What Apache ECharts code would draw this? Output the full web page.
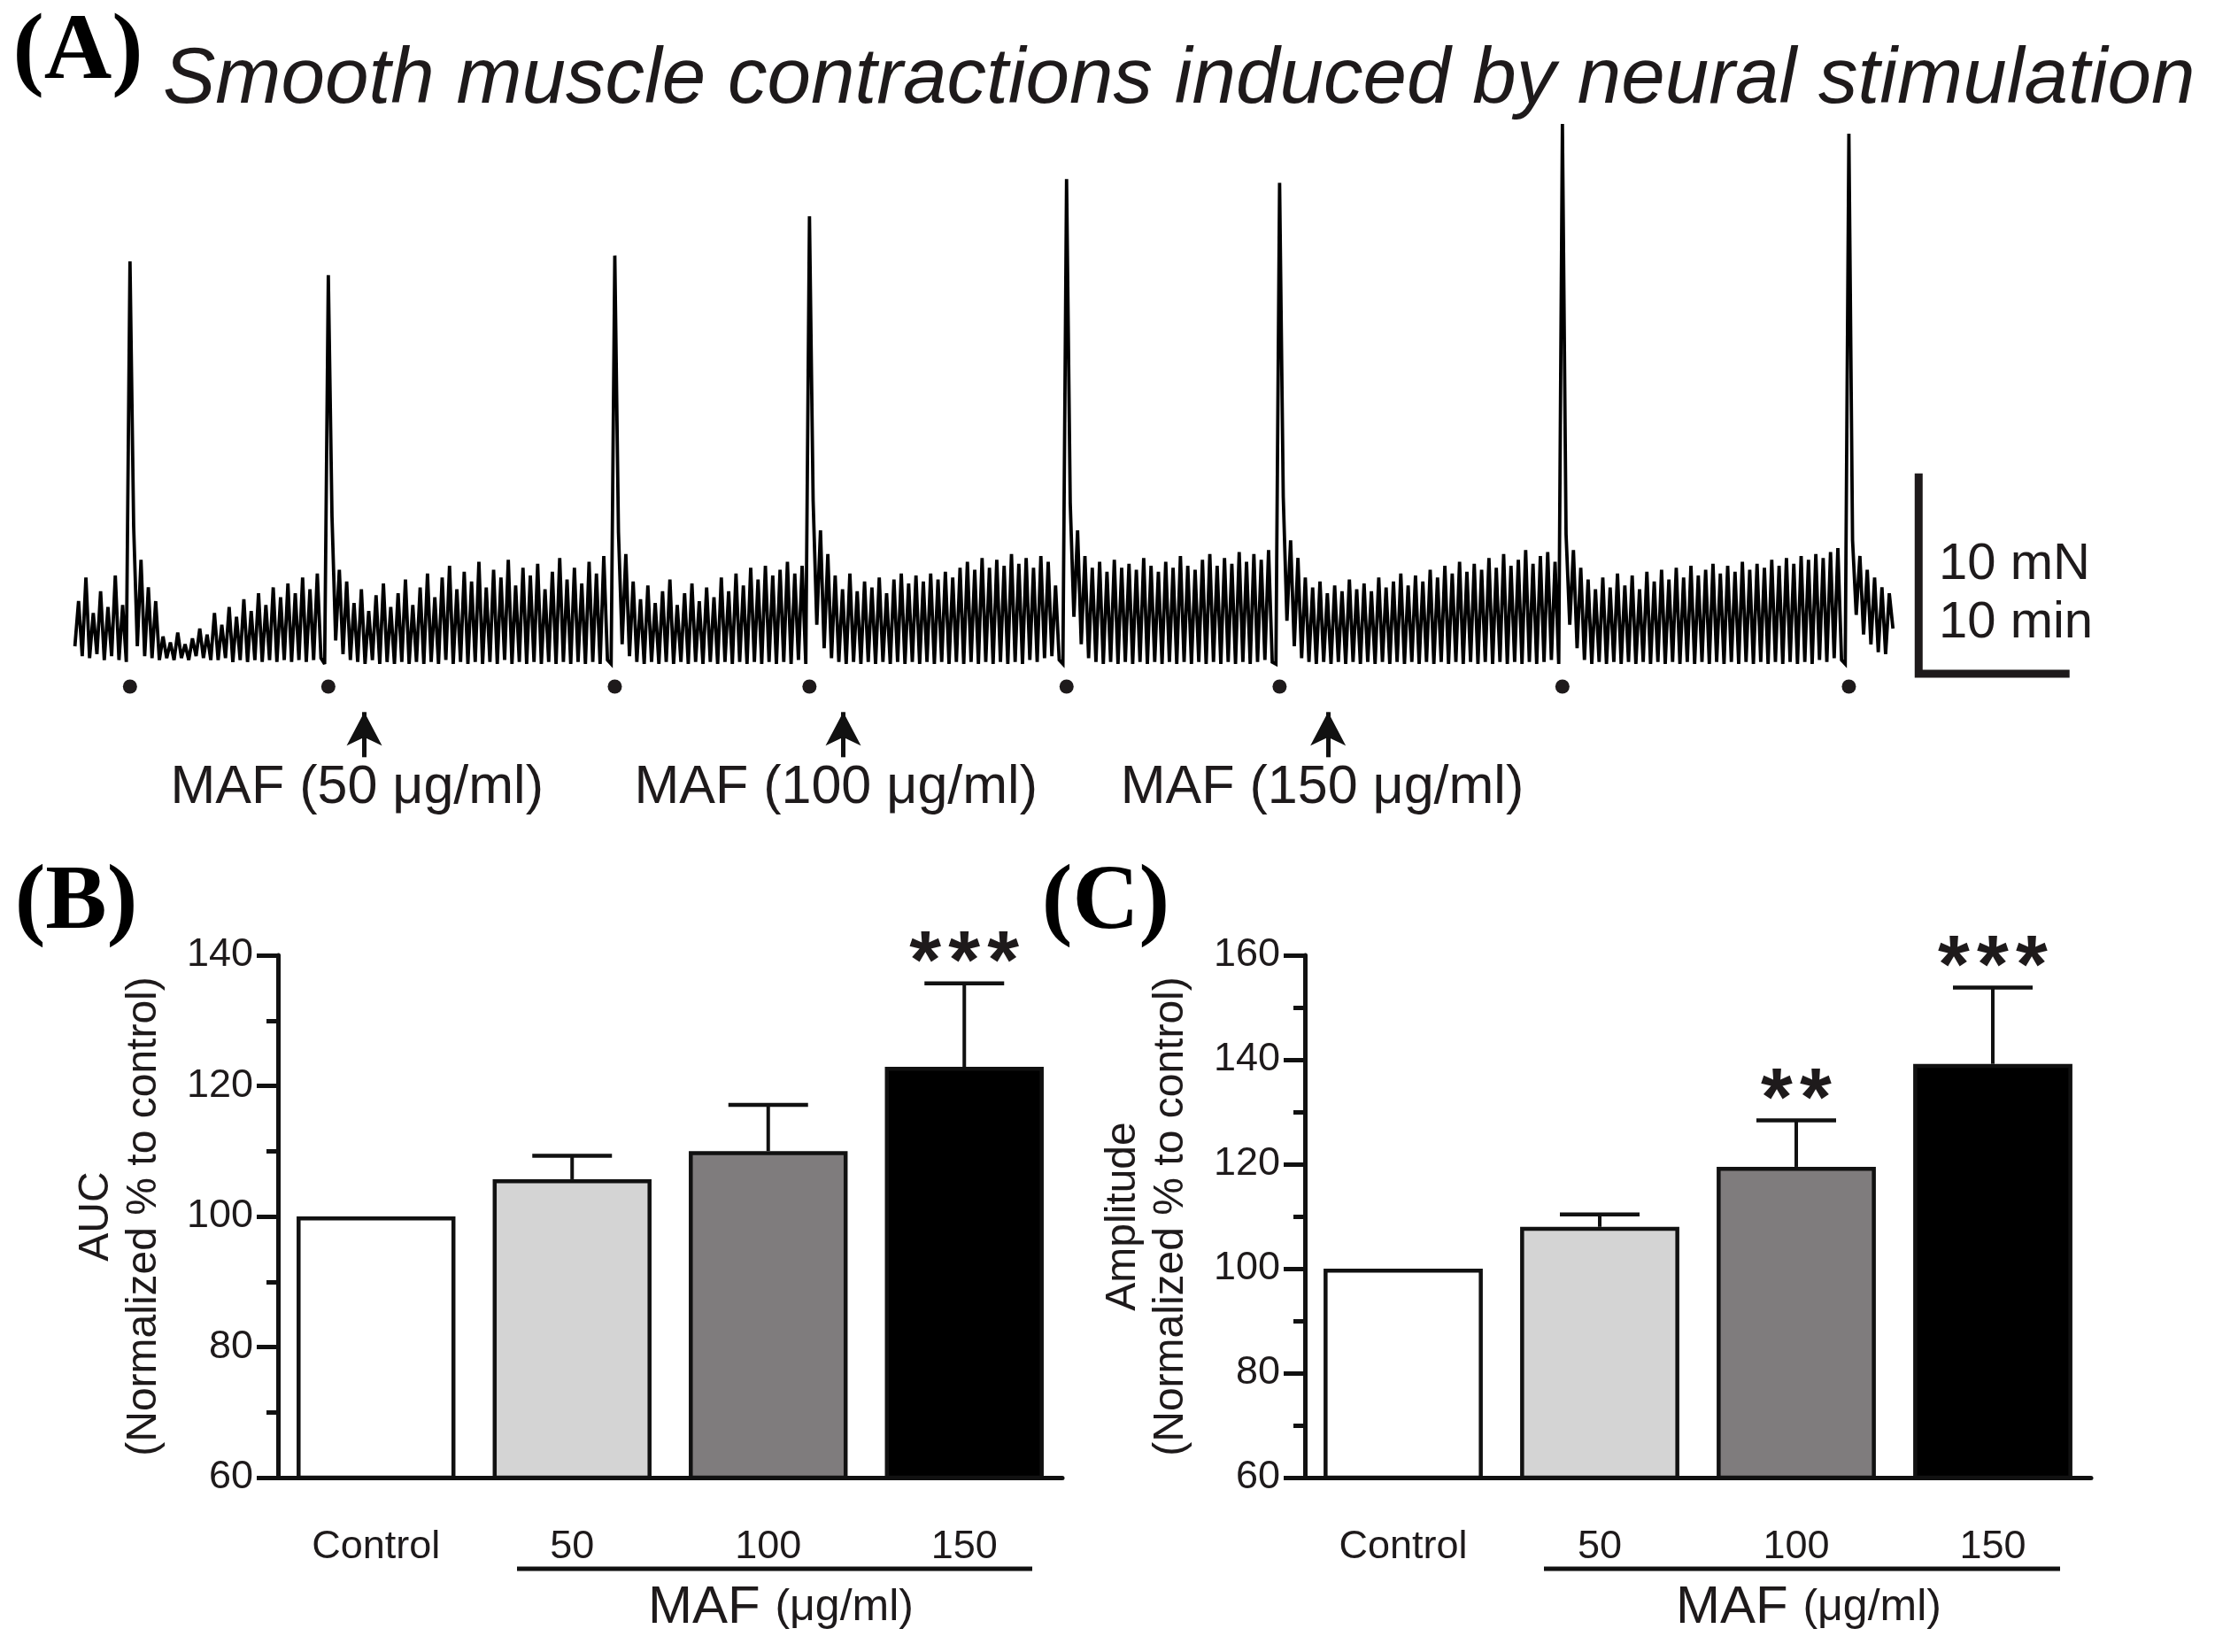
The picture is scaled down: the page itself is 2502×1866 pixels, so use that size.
<!DOCTYPE html>
<html><head><meta charset="utf-8">
<script src="https://cdn.jsdelivr.net/npm/echarts@6/dist/echarts.min.js"></script>
<style>html,body{margin:0;padding:0;background:#fff}#c{width:2502px;height:1866px}</style>
</head><body><div id="c"></div>
<script>
// ---------- Panel A: isometric tension trace (mN), one sample every 0.25 min ----------
const sampleMinutes = 0.25;
const seg0 = [0.9,3.2,0.4,4.4,0.3,2.6,0.5,3.7,0.2,2.9,0.4,4.5,0.2,3.0,0.1];
const seg1 = [7.0,0.9,5.3,0.4,3.9,0.3,3.2,0.2,1.4,0.3, 1.1,0.2,1.6,0.3,1.0,0.2,1.3,0.4,1.8,0.3,
              1.5,0.2,2.6,0.2,2.0,0.3,2.9,0.1,2.4,0.2, 3.3,0.1,2.7,0.2,3.6,0.1,3.0,0.2,3.9,0.1,
              3.4,0.2,4.1,0.1,3.6,0.2,4.4,0.1,3.8,0.2, 4.6,0.3,0.0];
const seg2 = [7.5,1.2,4.8,0.5,4.2,0.2,3.1,0.1,3.8,0.0,2.7,0.2,3.5,0.0,4.1,0.1,2.9,0.0,3.6,0.1,
              4.3,0.0,3.0,0.1,3.9,0.0,4.6,0.1,3.4,0.0,4.4,0.2,5.0,0.0,3.8,0.1,4.7,0.0,4.2,0.1,
              5.2,0.0,3.9,0.1,4.8,0.0,4.4,0.2,5.3,0.0,4.0,0.1,4.9,0.0,4.5,0.1,5.1,0.0,3.8,0.1,
              4.7,0.0,5.4,0.1,4.3,0.0,4.9,0.1,4.1,0.0,5.2,0.1,4.6,0.0,5.5,0.2,0.0];
const seg3 = [6.7,1.0,5.6,0.4,4.2,0.1,3.3,0.0,4.0,0.1,3.1,0.0,3.7,0.1,4.3,0.0,3.0,0.1,3.6,0.0,
              4.1,0.1,3.2,0.0,3.9,0.1,3.4,0.0,4.4,0.1,3.7,0.0,4.6,0.1,4.0,0.0,4.9,0.1,4.3,0.0,
              5.0,0.1,4.5,0.0,4.8,0.1,5.2,0.0,4.6,0.2,5.0,0.0];
const seg4 = [8.3,2.0,6.8,0.8,5.6,0.3,4.5,0.1,3.8,0.0,4.6,0.1,3.7,0.0,4.2,0.1,3.9,0.0,4.4,0.1,
              3.6,0.0,4.3,0.1,4.6,0.0,4.1,0.1,4.5,0.0,4.2,0.1,4.6,0.0,4.3,0.1,4.7,0.0,4.4,0.1,
              4.9,0.0,5.2,0.1,4.8,0.0,5.4,0.1,4.9,0.0,5.3,0.1,5.0,0.0,5.6,0.1,5.1,0.0,5.4,0.2,
              4.9,0.1,5.5,0.3,5.2,0.4,4.0,0.2,0.0];
const seg5 = [8.2,2.4,6.8,1.0,5.5,0.3,4.9,0.1,5.2,0.0,4.7,0.1,5.3,0.0,4.9,0.1,5.1,0.0,4.8,0.1,
              5.4,0.0,5.0,0.1,4.7,0.0,5.2,0.1,4.9,0.0,5.5,0.1,5.0,0.0,4.8,0.1,5.3,0.0,5.6,0.1,
              5.0,0.0,5.4,0.1,5.1,0.0,5.7,0.1,5.2,0.0,5.6,0.1,5.3,0.2,5.8,0.1,0.0];
const seg6 = [8.5,2.2,6.3,0.9,5.4,0.3,4.4,0.1,3.9,0.0,4.2,0.1,3.6,0.0,4.0,0.1,3.7,0.0,4.3,0.1,
              3.8,0.0,4.1,0.1,3.7,0.0,4.4,0.1,3.9,0.0,4.2,0.1,4.6,0.0,4.0,0.1,4.5,0.0,4.2,0.1,
              4.8,0.0,4.4,0.1,5.0,0.0,4.6,0.1,5.2,0.0,4.7,0.1,5.1,0.0,4.8,0.1,5.4,0.0,4.9,0.1,
              5.6,0.0,5.0,0.1,5.3,0.0,5.8,0.1,5.1,0.0,5.5,0.1,5.7,0.2,5.2,0.0];
const seg7 = [6.6,2.0,5.8,0.8,4.9,0.2,4.3,0.0,3.8,0.1,4.4,0.0,3.9,0.1,4.6,0.0,4.0,0.1,4.5,0.0,
              3.8,0.1,4.7,0.0,4.2,0.1,4.8,0.0,4.3,0.1,4.9,0.0,4.4,0.1,5.0,0.0,4.5,0.1,4.8,0.0,
              5.1,0.1,4.6,0.0,5.0,0.1,4.7,0.0,5.2,0.1,4.8,0.0,5.1,0.1,4.9,0.0,5.3,0.1,5.0,0.0,
              5.4,0.1,5.1,0.0,5.5,0.1,5.3,0.0,5.6,0.2,5.4,0.1,5.7,0.3,5.9,0.2,0.0];
const seg8 = [6.3,2.5,5.5,1.5,4.8,1.0,4.4,0.6,3.9,0.5,3.6,1.8];
const spikePeaks = [20.5,19.8,20.8,22.8,24.7,24.5,27.5,27.0];
const traceSegments = [seg0,seg1,seg2,seg3,seg4,seg5,seg6,seg7,seg8];

const arrowTimes = [19.7,52.3,85.3];            // minutes
const doseLabelTimes = [19.2,51.8,84.9];
const doseLabels = ['MAF (50 μg/ml)','MAF (100 μg/ml)','MAF (150 μg/ml)'];
const scaleBarX = [125.5,125.5,135.5];           // 10 min
const scaleBarY = [9.5,-0.5,-0.5];               // 10 mN

// ---------- Panels B and C ----------
const categories = ['Control','50','100','150'];
const aucMean  = [100,105.7,110.0,122.9];
const aucUpper = [null,109.3,117.1,135.7];
const aucStars = [0,0,0,3];
const ampMean  = [100,108.0,119.5,139.2];
const ampUpper = [null,110.4,128.4,153.8];
const ampStars = [0,0,2,3];
const barColors = ['#ffffff','#d4d4d4','#7f7c7d','#000000'];
const aucTicks = {min:60,max:140,interval:20};
const ampTicks = {min:60,max:160,interval:20};

// ---------- build ----------
const traceValues = [], spikeIdx = [];
traceSegments.forEach((s,i)=>{
  s.forEach(v=>traceValues.push(v));
  if (i < spikePeaks.length) { spikeIdx.push(traceValues.length); traceValues.push(spikePeaks[i]); }
});
const traceData = traceValues.map((v,i)=>[i*sampleMinutes, v]);
const dotData = spikeIdx.map(i=>[i*sampleMinutes, -1.15]);

const INK = '#1e1a1b';
const FONT = '"Liberation Sans", Arial, sans-serif';

function barAxes(gi, ticks, yname){
  return {
    x: {type:'category', gridIndex:gi, data:categories,
        axisLine:{lineStyle:{color:'#111',width:5}},
        axisTick:{alignWithLabel:true,length:25,lineStyle:{color:'#111',width:5}},
        axisLabel:{fontSize:45,margin:56,color:INK,fontFamily:FONT}},
    y: {type:'value', gridIndex:gi, min:ticks.min, max:ticks.max, interval:ticks.interval,
        axisLine:{show:true,lineStyle:{color:'#111',width:5}},
        axisTick:{show:true,length:24,lineStyle:{color:'#111',width:5}},
        minorTick:{show:true,splitNumber:2,length:13,lineStyle:{color:'#111',width:5}},
        splitLine:{show:false}, minorSplitLine:{show:false},
        axisLabel:{fontSize:45,margin:28,color:INK,fontFamily:FONT},
        name:yname, nameLocation:'middle', nameRotate:90, nameGap:124, nameMoveOverlap:false,
        nameTextStyle:{fontSize:48,lineHeight:54,color:INK,fontFamily:FONT,align:'center'}}
  };
}
const axB = barAxes(1, aucTicks, 'AUC\n(Normalized % to control)');
const axC = barAxes(2, ampTicks, 'Amplitude\n(Normalized % to control)');

function barSeries(gi, means){
  return {type:'bar', xAxisIndex:gi, yAxisIndex:gi, barCategoryGap:'19%', z:2,
    itemStyle:{borderColor:'#111',borderWidth:4.5},
    data: means.map((v,i)=>({value:v,itemStyle:{color:barColors[i]}}))};
}
function errSeries(gi, means, uppers, stars){
  return {type:'custom', xAxisIndex:gi, yAxisIndex:gi, z:5, silent:true,
    data: means.map((m,i)=>[i, m, uppers[i]==null?m:uppers[i], stars[i]]),
    renderItem:(params,api)=>{
      const i=api.value(0), m=api.value(1), u=api.value(2), n=api.value(3);
      const p0=api.coord([i,m]), p1=api.coord([i,u]);
      const ch=[];
      if (u>m){
        ch.push({type:'line',shape:{x1:p0[0],y1:p0[1],x2:p1[0],y2:p1[1]},style:{stroke:'#111',lineWidth:4}});
        ch.push({type:'line',shape:{x1:p1[0]-45,y1:p1[1],x2:p1[0]+45,y2:p1[1]},style:{stroke:'#111',lineWidth:4.5}});
      }
      for (let k=0;k<n;k++){
        ch.push({type:'text',style:{text:'*',x:p1[0]+(k-(n-1)/2)*44,y:p1[1]-20,align:'center',verticalAlign:'middle',
          fontSize:92,fontWeight:'bold',fontFamily:FONT,fill:INK}});
      }
      return {type:'group',children:ch};
    }};
}
function doseLabelSeries(){
  return {type:'custom', xAxisIndex:0, yAxisIndex:0, silent:true, z:6,
    data: doseLabelTimes.map((t,i)=>[t,-6.3,i]),
    renderItem:(params,api)=>{
      const p=api.coord([api.value(0),api.value(1)]);
      return {type:'text',style:{text:doseLabels[api.value(2)],x:p[0],y:p[1],align:'center',verticalAlign:'middle',
        fontSize:61,fontFamily:FONT,fill:INK}};
    }};
}

const chart = echarts.init(document.getElementById('c'), null, {renderer:'canvas'});
chart.setOption({
  backgroundColor:'#fff',
  animation:false,
  grid:[
    {left:84.6, top:84.6, width:2323.3, height:842.8, outerBoundsMode:'none'},
    {left:314, top:1079, width:886, height:590, outerBoundsMode:'none'},
    {left:1474, top:1079, width:888, height:590, outerBoundsMode:'none'}
  ],
  xAxis:[{type:'value',gridIndex:0,min:0,max:140,show:false}, axB.x, axC.x],
  yAxis:[{type:'value',gridIndex:0,min:-8,max:30,show:false}, axB.y, axC.y],
  series:[
    {type:'line', xAxisIndex:0, yAxisIndex:0, data:traceData, symbol:'none', silent:true,
     lineStyle:{color:'#000',width:3.8,join:'miter',miterLimit:3}, z:3,
     markLine:{silent:true, symbol:['none','arrow'], symbolSize:[30,38], animation:false,
       lineStyle:{color:'#111',width:5,type:'solid'}, label:{show:false},
       data: arrowTimes.map(t=>[{coord:[t,-4.75]},{coord:[t,-2.45]}])}},
    {type:'scatter', xAxisIndex:0, yAxisIndex:0, data:dotData, symbolSize:16, itemStyle:{color:INK,opacity:1}, silent:true},
    doseLabelSeries(),
    {type:'line', xAxisIndex:0, yAxisIndex:0, symbol:'none', silent:true,
     data: scaleBarX.map((x,i)=>[x,scaleBarY[i]]),
     lineStyle:{color:INK,width:9,cap:'square',join:'miter'}},
    barSeries(1, aucMean), errSeries(1, aucMean, aucUpper, aucStars),
    barSeries(2, ampMean), errSeries(2, ampMean, ampUpper, ampStars)
  ],
  graphic:[
    {type:'text', x:88, y:61, style:{text:'(A)', fontSize:106, fontWeight:'bold', fontFamily:'"Liberation Serif", serif', fill:'#000', align:'center', verticalAlign:'middle'}},
    {type:'text', x:86, y:1021, style:{text:'(B)', fontSize:104, fontWeight:'bold', fontFamily:'"Liberation Serif", serif', fill:'#000', align:'center', verticalAlign:'middle'}},
    {type:'text', x:1249, y:1021, style:{text:'(C)', fontSize:104, fontWeight:'bold', fontFamily:'"Liberation Serif", serif', fill:'#000', align:'center', verticalAlign:'middle'}},
    {type:'text', x:184, y:91, style:{text:'Smooth muscle contractions induced by neural stimulation', fontSize:89, fontStyle:'italic', fontFamily:FONT, fill:INK, align:'left', verticalAlign:'middle'}},
    {type:'text', x:2190, y:638, style:{text:'10 mN', fontSize:58, fontFamily:FONT, fill:INK, align:'left', verticalAlign:'middle'}},
    {type:'text', x:2190, y:704, style:{text:'10 min', fontSize:58, fontFamily:FONT, fill:INK, align:'left', verticalAlign:'middle'}},
    {type:'line', shape:{x1:584,y1:1772,x2:1166,y2:1772}, style:{stroke:'#111',lineWidth:5}},
    {type:'line', shape:{x1:1744,y1:1772,x2:2327,y2:1772}, style:{stroke:'#111',lineWidth:5}},
    {type:'text', x:882, y:1816, style:{text:'{a|MAF }{b|(μg/ml)}', align:'center', verticalAlign:'middle', fill:INK,
      rich:{a:{fontSize:60,fontFamily:FONT,fill:INK}, b:{fontSize:50,fontFamily:FONT,fill:INK}}}},
    {type:'text', x:2043, y:1816, style:{text:'{a|MAF }{b|(μg/ml)}', align:'center', verticalAlign:'middle', fill:INK,
      rich:{a:{fontSize:60,fontFamily:FONT,fill:INK}, b:{fontSize:50,fontFamily:FONT,fill:INK}}}}
  ]
});
</script></body></html>
